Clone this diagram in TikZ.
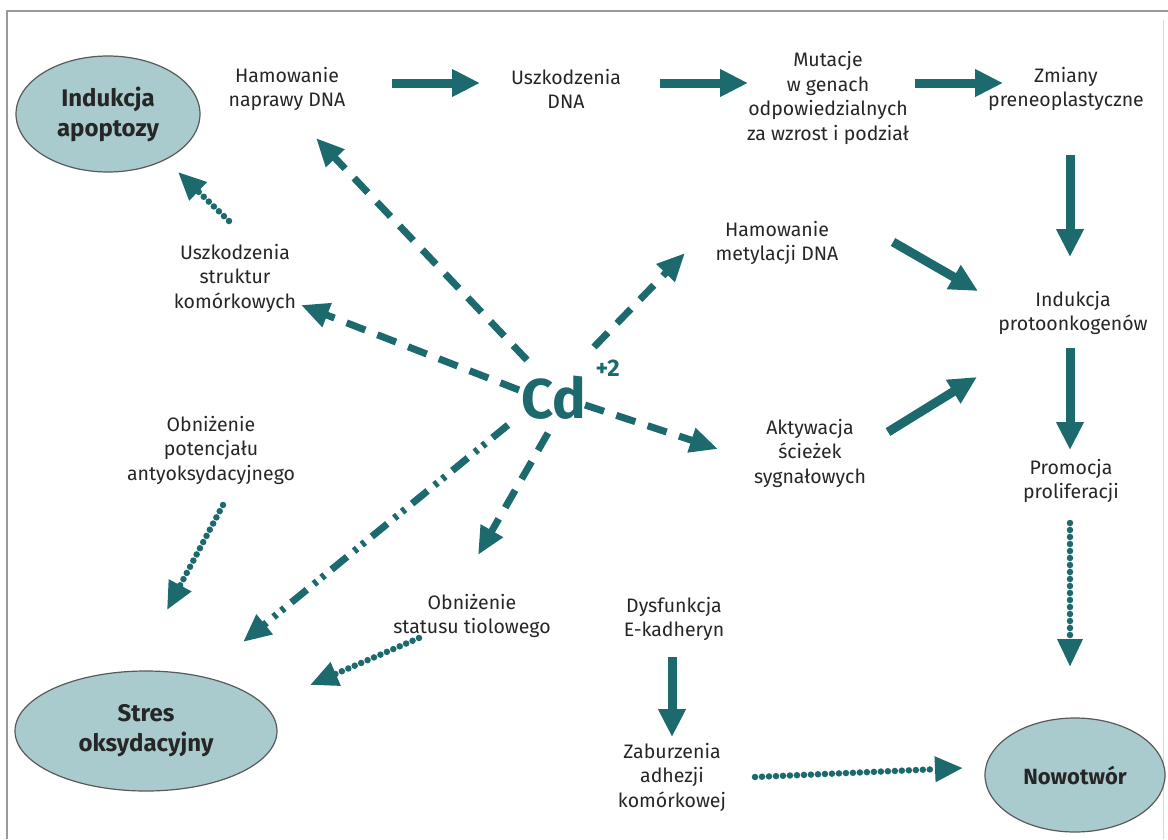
\documentclass[tikz,border=0pt]{standalone}
\usepackage{fontspec}
\setmainfont{Fira Sans}
\usetikzlibrary{arrows.meta,calc,shapes.geometric}
\definecolor{teal1}{HTML}{1C6A6D}
\definecolor{ellfill}{HTML}{AACBCD}
\definecolor{frame}{HTML}{9A9A9A}
\tikzset{
  lbl/.style={align=center, font=\fontsize{19.5}{24.5}\selectfont, text=black!85},
  ell/.style={ellipse, draw=black!65, line width=1.2pt, fill=ellfill, align=center, font=\fontsize{24}{30}\selectfont\bfseries, text=black!85},
  solidarr/.style={draw=teal1, line width=9pt, -{Triangle[length=28pt,width=26pt]}},
  dasharr/.style={draw=teal1, line width=7pt, dash pattern=on 20pt off 13pt, -{Triangle[length=28pt,width=24pt]}},
  dotarr/.style={draw=teal1, line width=6.5pt, line cap=round, dash pattern=on 0pt off 7pt, -{Triangle[length=28pt,width=24pt]}},
  ddotarr/.style={draw=teal1, line width=7pt, dash pattern=on 20pt off 9pt on 4pt off 6pt on 4pt off 9pt, -{Triangle[length=28pt,width=24pt]}},
}
\begin{document}
\begin{tikzpicture}[x=1pt,y=-1pt]
\useasboundingbox (0,0) rectangle (1168,839);
\fill[white] (0,0) rectangle (1168,839);
% frame
\draw[frame, line width=2.5pt] (7,839) -- (7,11) -- (1168,11);
\draw[black!15, line width=1pt] (1163,20) -- (1163,839);

% ellipses
\node[ell, minimum width=184pt, minimum height=116pt] (apop) at (108,114) {Indukcja\\apoptozy};
\node[ell, minimum width=262pt, minimum height=120pt] (stres) at (146,731) {Stres\\oksydacyjny};
\node[ell, minimum width=180pt, minimum height=114pt, font=\fontsize{22}{28}\selectfont\bfseries] (nowo) at (1075,775) {Nowotwór};

% text nodes
\node[lbl] (hnap) at (287,89) {Hamowanie\\naprawy DNA};
\node[lbl] (uszd) at (566,89) {Uszkodzenia\\DNA};
\node[lbl] (mut) at (828,98) {Mutacje\\w genach\\odpowiedzialnych\\za wzrost i podział};
\node[lbl] (zmi) at (1066,89) {Zmiany\\preneoplastyczne};
\node[lbl] (hmet) at (777,243) {Hamowanie\\metylacji DNA};
\node[lbl] (uszs) at (235,278) {Uszkodzenia\\struktur\\komórkowych};
\node[lbl] (ipro) at (1073,313) {Indukcja\\protoonkogenów};
\node[lbl] (obp) at (211,450) {Obniżenie\\potencjału\\antyoksydacyjnego};
\node[lbl] (akt) at (810,453) {Aktywacja\\ścieżek\\sygnałowych};
\node[lbl] (prom) at (1071,481) {Promocja\\proliferacji};
\node[lbl] (obs) at (472,616) {Obniżenie\\statusu tiolowego};
\node[lbl] (dys) at (674,619) {Dysfunkcja\\E-kadheryn};
\node[lbl] (zab) at (672,777) {Zaburzenia\\adhezji\\komórkowej};

% Cd
\node[inner sep=0pt, text=teal1, font=\fontsize{56}{60}\selectfont\bfseries] (cd) at (554,398) {Cd};
\node[inner sep=0pt, text=teal1, font=\fontsize{24}{26}\selectfont\bfseries, anchor=west] (cdq) at ($(cd.north east)+(9,-8)$) {+2};

% connector end coordinates
\coordinate (a1s) at (392,83); \coordinate (a1e) at (480,83);
\coordinate (a2s) at (660,83); \coordinate (a2e) at (748,83);
\coordinate (a3s) at (915,83); \coordinate (a3e) at (1003,83);
\coordinate (a4s) at (1070,155); \coordinate (a4e) at (1070,257);
\coordinate (a5s) at (893,242); \coordinate (a5e) at (978,291);
\coordinate (a6s) at (888,432); \coordinate (a6e) at (977,377);
\coordinate (a7s) at (1070,348); \coordinate (a7e) at (1070,450);
\coordinate (a8s) at (672,657); \coordinate (a8e) at (672,737);
\coordinate (d9s) at (1070,523); \coordinate (d9e) at (1070,667);
\coordinate (d10s) at (755,777); \coordinate (d10e) at (963,768);
\coordinate (d11s) at (229,221); \coordinate (d11e) at (178,172);
\coordinate (d12s) at (223,505); \coordinate (d12e) at (167,610);
\coordinate (d13s) at (419,638); \coordinate (d13e) at (310,685);
\coordinate (c14s) at (527,360); \coordinate (c14e) at (316,138);
\coordinate (c15s) at (519,390); \coordinate (c15e) at (301,305);
\coordinate (c16s) at (594,347); \coordinate (c16e) at (685,253);
\coordinate (c17s) at (585,405); \coordinate (c17e) at (718,449);
\coordinate (c18s) at (548,433); \coordinate (c18e) at (478,555);
\coordinate (c19s) at (508,425); \coordinate (c19e) at (243,642);

% solid arrows
\draw[solidarr] (a1s) -- (a1e);
\draw[solidarr] (a2s) -- (a2e);
\draw[solidarr] (a3s) -- (a3e);
\draw[solidarr] (a4s) -- (a4e);
\draw[solidarr] (a5s) -- (a5e);
\draw[solidarr] (a6s) -- (a6e);
\draw[solidarr] (a7s) -- (a7e);
\draw[solidarr] (a8s) -- (a8e);
% dotted arrows
\draw[dotarr] (d9s) -- (d9e);
\draw[dotarr] (d10s) -- (d10e);
\draw[dotarr] (d11s) -- (d11e);
\draw[dotarr] (d12s) -- (d12e);
\draw[dotarr] (d13s) -- (d13e);
% dashed arrows from Cd
\draw[dasharr] (c14s) -- (c14e);
\draw[dasharr] (c15s) -- (c15e);
\draw[dasharr] (c16s) -- (c16e);
\draw[dasharr] (c17s) -- (c17e);
\draw[dasharr] (c18s) -- (c18e);
\draw[ddotarr] (c19s) -- (c19e);
\end{tikzpicture}
\end{document}
